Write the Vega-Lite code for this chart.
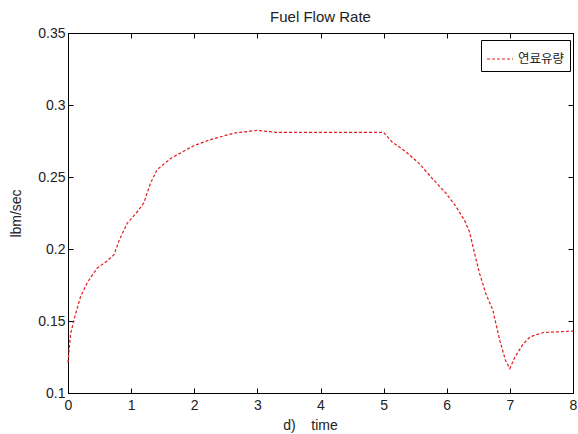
{
  "$schema": "https://vega.github.io/schema/vega-lite/v6.json",
  "width": 505,
  "height": 360,
  "autosize": {"type": "none"},
  "padding": {"left": 68, "top": 33, "right": 5, "bottom": 41},
  "background": "white",
  "title": {"text": "Fuel Flow Rate", "fontSize": 15, "fontWeight": "normal", "font": "Liberation Sans", "color": "#222", "offset": 1},
  "data": {"values": [
    {"t": 0, "v": 0.121, "s": "연료유량"},
    {"t": 0.04, "v": 0.141, "s": "연료유량"},
    {"t": 0.12, "v": 0.155, "s": "연료유량"},
    {"t": 0.2, "v": 0.167, "s": "연료유량"},
    {"t": 0.31, "v": 0.177, "s": "연료유량"},
    {"t": 0.46, "v": 0.1866, "s": "연료유량"},
    {"t": 0.62, "v": 0.1917, "s": "연료유량"},
    {"t": 0.73, "v": 0.196, "s": "연료유량"},
    {"t": 0.81, "v": 0.206, "s": "연료유량"},
    {"t": 0.94, "v": 0.218, "s": "연료유량"},
    {"t": 1.12, "v": 0.227, "s": "연료유량"},
    {"t": 1.2, "v": 0.232, "s": "연료유량"},
    {"t": 1.31, "v": 0.246, "s": "연료유량"},
    {"t": 1.41, "v": 0.255, "s": "연료유량"},
    {"t": 1.63, "v": 0.263, "s": "연료유량"},
    {"t": 1.99, "v": 0.2717, "s": "연료유량"},
    {"t": 2.26, "v": 0.276, "s": "연료유량"},
    {"t": 2.63, "v": 0.2805, "s": "연료유량"},
    {"t": 3.0, "v": 0.2824, "s": "연료유량"},
    {"t": 3.3, "v": 0.281, "s": "연료유량"},
    {"t": 4.0, "v": 0.281, "s": "연료유량"},
    {"t": 4.5, "v": 0.281, "s": "연료유량"},
    {"t": 5.0, "v": 0.281, "s": "연료유량"},
    {"t": 5.13, "v": 0.2745, "s": "연료유량"},
    {"t": 5.35, "v": 0.2676, "s": "연료유량"},
    {"t": 5.56, "v": 0.2595, "s": "연료유량"},
    {"t": 5.77, "v": 0.249, "s": "연료유량"},
    {"t": 5.99, "v": 0.2386, "s": "연료유량"},
    {"t": 6.15, "v": 0.2293, "s": "연료유량"},
    {"t": 6.28, "v": 0.22, "s": "연료유량"},
    {"t": 6.36, "v": 0.212, "s": "연료유량"},
    {"t": 6.44, "v": 0.197, "s": "연료유량"},
    {"t": 6.52, "v": 0.183, "s": "연료유량"},
    {"t": 6.62, "v": 0.169, "s": "연료유량"},
    {"t": 6.73, "v": 0.1575, "s": "연료유량"},
    {"t": 6.84, "v": 0.1366, "s": "연료유량"},
    {"t": 6.93, "v": 0.1227, "s": "연료유량"},
    {"t": 7.0, "v": 0.117, "s": "연료유량"},
    {"t": 7.08, "v": 0.125, "s": "연료유량"},
    {"t": 7.21, "v": 0.134, "s": "연료유량"},
    {"t": 7.32, "v": 0.139, "s": "연료유량"},
    {"t": 7.53, "v": 0.142, "s": "연료유량"},
    {"t": 8.0, "v": 0.143, "s": "연료유량"}
  ]},
  "layer": [
    {
      "mark": {"type": "line", "strokeWidth": 1.2, "strokeDash": [3, 2], "interpolate": "linear"},
      "encoding": {
        "x": {"field": "t", "type": "quantitative", "scale": {"domain": [0, 8], "nice": false, "zero": false},
          "axis": {"orient": "bottom", "values": [0,1,2,3,4,5,6,7,8], "title": "d)\u00a0\u00a0\u00a0\u00a0time", "tickSize": -5, "labelPadding": 10, "titlePadding": 6, "titleX": 242, "titleAlign": "center", "grid": false}},
        "y": {"field": "v", "type": "quantitative", "scale": {"domain": [0.1, 0.35], "nice": false, "zero": false},
          "axis": {"orient": "left", "values": [0.1,0.15,0.2,0.25,0.3,0.35], "title": "lbm/sec", "tickSize": -5, "labelPadding": 8, "titlePadding": 14, "grid": false, "labelExpr": "datum.value == 0.1 ? '0.1' : datum.value == 0.2 ? '0.2' : datum.value == 0.3 ? '0.3' : datum.label"}},
        "color": {"field": "s", "type": "nominal", "scale": {"domain": ["연료유량"], "range": ["#e41a1c"]},
          "legend": {"title": null, "orient": "none", "legendX": 413, "legendY": 7, "symbolType": "stroke", "symbolSize": 676, "symbolStrokeWidth": 1.2, "symbolDash": [3, 2], "labelFont": "Noto Sans CJK KR", "labelFontSize": 12.5, "labelColor": "#222", "strokeColor": "black", "fillColor": "white", "padding": 5, "labelOffset": 4}}
      }
    },
    {
      "mark": {"type": "line", "opacity": 0},
      "encoding": {
        "x": {"field": "t", "type": "quantitative", "axis": {"orient": "top", "values": [0,1,2,3,4,5,6,7,8], "labels": false, "title": null, "tickSize": -5, "grid": false}},
        "y": {"field": "v", "type": "quantitative", "axis": {"orient": "right", "values": [0.1,0.15,0.2,0.25,0.3,0.35], "labels": false, "title": null, "tickSize": -5, "grid": false}}
      }
    }
  ],
  "resolve": {"axis": {"x": "independent", "y": "independent"}},
  "config": {
    "view": {"stroke": "black"},
    "font": "Liberation Sans",
    "axis": {"domainColor": "black", "tickColor": "black", "labelColor": "#222", "titleColor": "#222", "labelFontSize": 14, "titleFontSize": 14, "titleFontWeight": "normal", "labelFont": "Liberation Sans", "titleFont": "Liberation Sans", "labelFlush": false, "labelOverlap": false}
  }
}
